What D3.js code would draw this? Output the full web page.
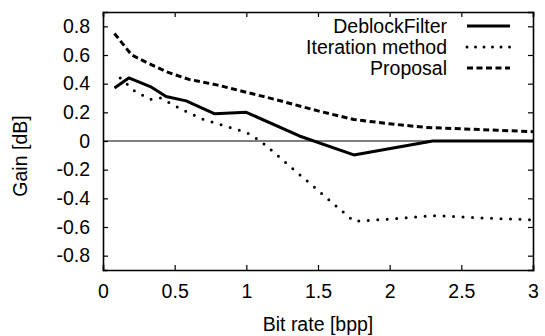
<!DOCTYPE html>
<html>
<head>
<meta charset="utf-8">
<script src="https://cdn.jsdelivr.net/npm/d3@7"></script>
<style>
body { margin: 0; background: #fff; }
text { font-family: "Liberation Sans", Arial, sans-serif; fill: #000; }
</style>
</head>
<body>
<script>
// data (bit rate [bpp], gain [dB])
var deblockX = [0.08, 0.18, 0.33, 0.44, 0.58, 0.78, 1.0, 1.37, 1.75, 2.3, 3.0];
var deblockY = [0.37, 0.44, 0.38, 0.31, 0.28, 0.19, 0.20, 0.035, -0.097, 0.0, 0.0];
var iterX = [0.12, 0.22, 0.33, 0.4, 0.55, 0.7, 1.0, 1.1, 1.75, 2.0, 2.3, 2.6, 3.0];
var iterY = [0.44, 0.35, 0.29, 0.30, 0.22, 0.15, 0.06, 0.0, -0.56, -0.545, -0.52, -0.535, -0.55];
var propX = [0.08, 0.2, 0.3, 0.45, 0.6, 0.8, 1.0, 1.2, 1.5, 1.75, 2.0, 2.25, 2.5, 2.75, 3.0];
var propY = [0.75, 0.60, 0.55, 0.48, 0.43, 0.39, 0.34, 0.29, 0.21, 0.15, 0.12, 0.095, 0.085, 0.075, 0.065];
var xTicks = [0, 0.5, 1, 1.5, 2, 2.5, 3];
var yTicks = [-0.8, -0.6, -0.4, -0.2, 0, 0.2, 0.4, 0.6, 0.8];
var seriesNames = ["DeblockFilter", "Iteration method", "Proposal"];

var W = 545, H = 336;
var m = {left: 103, right: 12, top: 12, bottom: 66};
var fs = 19.5;

var svg = d3.select("body").append("svg")
    .attr("width", W)
    .attr("height", H);

var x = d3.scaleLinear().domain([0, 3]).range([m.left, W - m.right]);
var y = d3.scaleLinear().domain([-0.9, 0.9]).range([H - m.bottom, m.top]);

//ゼロ線
svg.append("line")
    .attr("x1", x(0)).attr("x2", x(3))
    .attr("y1", y(0)).attr("y2", y(0))
    .attr("stroke", "#000").attr("stroke-width", 1.2);

//軸 (内向きの目盛り、上と右にも)
var tk = 5;
var bottom = svg.append("g").attr("transform", "translate(0," + y(-0.9) + ")")
    .call(d3.axisBottom(x).tickValues(xTicks).tickSize(-tk).tickPadding(14).tickFormat(d3.format("")));
var top = svg.append("g").attr("transform", "translate(0," + y(0.9) + ")")
    .call(d3.axisTop(x).tickValues(xTicks).tickSize(-tk).tickFormat(""));
var left = svg.append("g").attr("transform", "translate(" + x(0) + ",0)")
    .call(d3.axisLeft(y).tickValues(yTicks).tickSize(-tk).tickPadding(13).tickFormat(d3.format("")));
var right = svg.append("g").attr("transform", "translate(" + x(3) + ",0)")
    .call(d3.axisRight(y).tickValues(yTicks).tickSize(-tk).tickFormat(""));

svg.selectAll(".domain").attr("stroke", "#000").attr("stroke-width", 1.6);
svg.selectAll(".tick line").attr("stroke", "#000").attr("stroke-width", 1.2);
svg.selectAll(".tick text")
    .attr("font-size", fs + "px")
    .attr("font-family", "Liberation Sans, Arial, sans-serif")
    .attr("fill", "#000");
left.selectAll(".tick text").text(function (d) {
    return d === 0 ? "0" : d3.format(".1f")(d).replace("\u2212", "-");
});
bottom.selectAll(".tick text").attr("dy", "0.71em");

//軸ラベル
svg.append("text")
    .attr("x", x(1.5)).attr("y", 331)
    .attr("text-anchor", "middle")
    .attr("font-size", fs + "px")
    .text("Bit rate [bpp]");
svg.append("text")
    .attr("transform", "translate(27,156) rotate(-90)")
    .attr("text-anchor", "middle")
    .attr("font-size", fs + "px")
    .text("Gain [dB]");

//線
var styles = [
    {w: 3, dash: null, cap: "butt"},
    {w: 3, dash: "0,9.5", cap: "round"},
    {w: 3, dash: "6,3.5", cap: "butt"}
];
var series = [
    d3.zip(deblockX, deblockY),
    d3.zip(iterX, iterY),
    d3.zip(propX, propY)
];
var line = d3.line()
    .x(function (d) { return x(d[0]); })
    .y(function (d) { return y(d[1]); });

svg.selectAll("path.series")
    .data(series)
    .enter()
    .append("path")
    .attr("class", "series")
    .attr("d", line)
    .attr("fill", "none")
    .attr("stroke", "#000")
    .attr("stroke-width", function (d, i) { return styles[i].w; })
    .attr("stroke-dasharray", function (d, i) { return styles[i].dash; })
    .attr("stroke-linecap", function (d, i) { return styles[i].cap; })
    .attr("stroke-linejoin", "round");

//凡例
var key = svg.append("g");
var rowY = [26, 47, 68];
seriesNames.forEach(function (name, i) {
    key.append("text")
        .attr("x", 447).attr("y", rowY[i])
        .attr("dy", "0.35em")
        .attr("text-anchor", "end")
        .attr("font-size", fs + "px")
        .text(name);
    key.append("line")
        .attr("x1", 467).attr("x2", 510)
        .attr("y1", rowY[i]).attr("y2", rowY[i])
        .attr("stroke", "#000")
        .attr("stroke-width", styles[i].w)
        .attr("stroke-dasharray", i === 1 ? "0,8.5" : styles[i].dash)
        .attr("stroke-linecap", styles[i].cap);
});
</script>
</body>
</html>
